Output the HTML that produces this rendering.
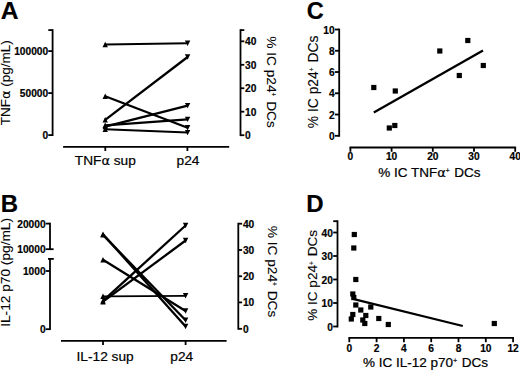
<!DOCTYPE html>
<html><head><meta charset="utf-8"><title>Figure</title>
<style>
html,body{margin:0;padding:0;background:#fff;}
body{width:520px;height:372px;overflow:hidden;}
svg{display:block;font-family:"Liberation Sans",Arial,sans-serif;fill:#000;}
</style></head><body>
<svg width="520" height="372" viewBox="0 0 520 372">
<rect x="0" y="0" width="520" height="372" fill="#fff"/>
<text x="0.7" y="18.6" font-size="24.6" font-weight="bold" text-anchor="start" stroke="#000" stroke-width="0.2">A</text>
<line x1="52.6" y1="29.2" x2="52.6" y2="136" stroke="#000" stroke-width="1.8" stroke-linecap="butt"/>
<line x1="48.300000000000004" y1="30.1" x2="52.6" y2="30.1" stroke="#000" stroke-width="1.8" stroke-linecap="butt"/>
<line x1="48.300000000000004" y1="51.1" x2="52.6" y2="51.1" stroke="#000" stroke-width="1.8" stroke-linecap="butt"/>
<text x="48.2" y="55.1" font-size="10.2" font-weight="bold" text-anchor="end" stroke="#000" stroke-width="0.2">100000</text>
<line x1="48.300000000000004" y1="93.1" x2="52.6" y2="93.1" stroke="#000" stroke-width="1.8" stroke-linecap="butt"/>
<text x="48.2" y="97.1" font-size="10.2" font-weight="bold" text-anchor="end" stroke="#000" stroke-width="0.2">50000</text>
<line x1="48.300000000000004" y1="135.1" x2="52.6" y2="135.1" stroke="#000" stroke-width="1.8" stroke-linecap="butt"/>
<text x="48.2" y="139.1" font-size="10.2" font-weight="bold" text-anchor="end" stroke="#000" stroke-width="0.2">0</text>
<text x="10.2" y="82.8" font-size="13.5" font-weight="normal" text-anchor="middle" transform="rotate(-90 10.2 82.8)" stroke="#000" stroke-width="0.1">TNF<tspan font-family="DejaVu Sans" font-size="13">&#945;</tspan> (pg/mL)</text>
<line x1="240.5" y1="29.2" x2="240.5" y2="136.1" stroke="#000" stroke-width="1.8" stroke-linecap="butt"/>
<line x1="240.5" y1="30.1" x2="244.3" y2="30.1" stroke="#000" stroke-width="1.8" stroke-linecap="butt"/>
<line x1="240.5" y1="41.3" x2="244.3" y2="41.3" stroke="#000" stroke-width="1.8" stroke-linecap="butt"/>
<text x="245.1" y="45.3" font-size="10.2" font-weight="bold" text-anchor="start" stroke="#000" stroke-width="0.2">40</text>
<line x1="240.5" y1="64.8" x2="244.3" y2="64.8" stroke="#000" stroke-width="1.8" stroke-linecap="butt"/>
<text x="245.1" y="68.8" font-size="10.2" font-weight="bold" text-anchor="start" stroke="#000" stroke-width="0.2">30</text>
<line x1="240.5" y1="88.25" x2="244.3" y2="88.25" stroke="#000" stroke-width="1.8" stroke-linecap="butt"/>
<text x="245.1" y="92.25" font-size="10.2" font-weight="bold" text-anchor="start" stroke="#000" stroke-width="0.2">20</text>
<line x1="240.5" y1="111.7" x2="244.3" y2="111.7" stroke="#000" stroke-width="1.8" stroke-linecap="butt"/>
<text x="245.1" y="115.7" font-size="10.2" font-weight="bold" text-anchor="start" stroke="#000" stroke-width="0.2">10</text>
<line x1="240.5" y1="135.2" x2="244.3" y2="135.2" stroke="#000" stroke-width="1.8" stroke-linecap="butt"/>
<text x="245.1" y="139.2" font-size="10.2" font-weight="bold" text-anchor="start" stroke="#000" stroke-width="0.2">0</text>
<text x="267.2" y="82" font-size="13.7" font-weight="normal" text-anchor="middle" transform="rotate(90 267.2 82)" stroke="#000" stroke-width="0.1">% IC p24<tspan font-size="6.5" dy="-3.6">+</tspan><tspan dy="3.6" dx="1.0"> </tspan>DCs</text>
<line x1="63.1" y1="146.8" x2="229.2" y2="146.8" stroke="#000" stroke-width="1.8" stroke-linecap="butt"/>
<line x1="105.3" y1="146.8" x2="105.3" y2="151.0" stroke="#000" stroke-width="1.8" stroke-linecap="butt"/>
<line x1="187.4" y1="146.8" x2="187.4" y2="151.0" stroke="#000" stroke-width="1.8" stroke-linecap="butt"/>
<text x="105.3" y="165.2" font-size="13.7" font-weight="normal" text-anchor="middle" stroke="#000" stroke-width="0.22">TNF<tspan font-family="DejaVu Sans" font-size="13">&#945;</tspan> sup</text>
<text x="188.0" y="165.2" font-size="13.7" font-weight="normal" text-anchor="middle" stroke="#000" stroke-width="0.22">p24</text>
<line x1="105.2" y1="44.5" x2="187.6" y2="43.3" stroke="#000" stroke-width="2.0" stroke-linecap="butt"/>
<polygon points="105.2,41.8 102.5,47.2 107.9,47.2"/>
<polygon points="187.6,46.0 184.9,40.599999999999994 190.29999999999998,40.599999999999994"/>
<line x1="105.2" y1="119.8" x2="187.6" y2="57" stroke="#000" stroke-width="2.3" stroke-linecap="butt"/>
<polygon points="105.2,117.1 102.5,122.5 107.9,122.5"/>
<polygon points="187.6,59.7 184.9,54.3 190.29999999999998,54.3"/>
<line x1="105.2" y1="96.3" x2="187.6" y2="127.8" stroke="#000" stroke-width="2.3" stroke-linecap="butt"/>
<polygon points="105.2,93.6 102.5,99.0 107.9,99.0"/>
<polygon points="187.6,130.5 184.9,125.1 190.29999999999998,125.1"/>
<line x1="105.2" y1="126.6" x2="187.6" y2="105.6" stroke="#000" stroke-width="2.3" stroke-linecap="butt"/>
<polygon points="105.2,123.89999999999999 102.5,129.29999999999998 107.9,129.29999999999998"/>
<polygon points="187.6,108.3 184.9,102.89999999999999 190.29999999999998,102.89999999999999"/>
<line x1="105.2" y1="125.3" x2="187.6" y2="119.4" stroke="#000" stroke-width="2.3" stroke-linecap="butt"/>
<polygon points="105.2,122.6 102.5,128.0 107.9,128.0"/>
<polygon points="187.6,122.10000000000001 184.9,116.7 190.29999999999998,116.7"/>
<line x1="105.2" y1="129.3" x2="187.6" y2="132.6" stroke="#000" stroke-width="2.0" stroke-linecap="butt"/>
<polygon points="105.2,126.60000000000001 102.5,132.0 107.9,132.0"/>
<polygon points="187.6,135.29999999999998 184.9,129.9 190.29999999999998,129.9"/>
<text x="0.8" y="211.7" font-size="24" font-weight="bold" text-anchor="start" stroke="#000" stroke-width="0.2">B</text>
<line x1="50.0" y1="222.7" x2="50.0" y2="250.1" stroke="#000" stroke-width="1.8" stroke-linecap="butt"/>
<line x1="45.7" y1="223.6" x2="50.0" y2="223.6" stroke="#000" stroke-width="1.8" stroke-linecap="butt"/>
<text x="45.6" y="227.6" font-size="10.2" font-weight="bold" text-anchor="end" stroke="#000" stroke-width="0.2">20000</text>
<line x1="45.7" y1="249.2" x2="53.6" y2="249.2" stroke="#000" stroke-width="1.8" stroke-linecap="butt"/>
<text x="45.6" y="253.2" font-size="10.2" font-weight="bold" text-anchor="end" stroke="#000" stroke-width="0.2">10000</text>
<line x1="50.0" y1="258" x2="50.0" y2="330.1" stroke="#000" stroke-width="1.8" stroke-linecap="butt"/>
<line x1="48.0" y1="258.9" x2="53.8" y2="258.9" stroke="#000" stroke-width="1.8" stroke-linecap="butt"/>
<line x1="45.7" y1="271.0" x2="50.0" y2="271.0" stroke="#000" stroke-width="1.8" stroke-linecap="butt"/>
<text x="45.6" y="275.0" font-size="10.2" font-weight="bold" text-anchor="end" stroke="#000" stroke-width="0.2">1000</text>
<line x1="45.7" y1="329.2" x2="50.0" y2="329.2" stroke="#000" stroke-width="1.8" stroke-linecap="butt"/>
<text x="45.6" y="333.2" font-size="10.2" font-weight="bold" text-anchor="end" stroke="#000" stroke-width="0.2">0</text>
<text x="9.8" y="272.4" font-size="13.7" font-weight="normal" text-anchor="middle" transform="rotate(-90 9.8 272.4)" stroke="#000" stroke-width="0.1">IL-12 p70 (pg/mL)</text>
<line x1="238.3" y1="222.8" x2="238.3" y2="329.7" stroke="#000" stroke-width="1.8" stroke-linecap="butt"/>
<line x1="238.3" y1="223.7" x2="242.10000000000002" y2="223.7" stroke="#000" stroke-width="1.8" stroke-linecap="butt"/>
<text x="242.9" y="227.7" font-size="10.2" font-weight="bold" text-anchor="start" stroke="#000" stroke-width="0.2">40</text>
<line x1="238.3" y1="250.0" x2="242.10000000000002" y2="250.0" stroke="#000" stroke-width="1.8" stroke-linecap="butt"/>
<text x="242.9" y="254.0" font-size="10.2" font-weight="bold" text-anchor="start" stroke="#000" stroke-width="0.2">30</text>
<line x1="238.3" y1="276.25" x2="242.10000000000002" y2="276.25" stroke="#000" stroke-width="1.8" stroke-linecap="butt"/>
<text x="242.9" y="280.25" font-size="10.2" font-weight="bold" text-anchor="start" stroke="#000" stroke-width="0.2">20</text>
<line x1="238.3" y1="302.4" x2="242.10000000000002" y2="302.4" stroke="#000" stroke-width="1.8" stroke-linecap="butt"/>
<text x="242.9" y="306.4" font-size="10.2" font-weight="bold" text-anchor="start" stroke="#000" stroke-width="0.2">10</text>
<line x1="238.3" y1="328.8" x2="242.10000000000002" y2="328.8" stroke="#000" stroke-width="1.8" stroke-linecap="butt"/>
<text x="242.9" y="332.8" font-size="10.2" font-weight="bold" text-anchor="start" stroke="#000" stroke-width="0.2">0</text>
<text x="268" y="271.5" font-size="13.7" font-weight="normal" text-anchor="middle" transform="rotate(90 268 271.5)" stroke="#000" stroke-width="0.1">% IC p24<tspan font-size="6.5" dy="-3.6">+</tspan><tspan dy="3.6" dx="1.0"> </tspan>DCs</text>
<line x1="61" y1="340.8" x2="226.6" y2="340.8" stroke="#000" stroke-width="1.8" stroke-linecap="butt"/>
<line x1="103.0" y1="340.8" x2="103.0" y2="345.0" stroke="#000" stroke-width="1.8" stroke-linecap="butt"/>
<line x1="185.6" y1="340.8" x2="185.6" y2="345.0" stroke="#000" stroke-width="1.8" stroke-linecap="butt"/>
<text x="105.1" y="360.6" font-size="13.7" font-weight="normal" text-anchor="middle" stroke="#000" stroke-width="0.22">IL-12 sup</text>
<text x="181.7" y="360.6" font-size="13.7" font-weight="normal" text-anchor="middle" stroke="#000" stroke-width="0.22">p24</text>
<line x1="103.0" y1="234.2" x2="185.6" y2="326.5" stroke="#000" stroke-width="2.3" stroke-linecap="butt"/>
<polygon points="103.0,231.5 100.3,236.89999999999998 105.7,236.89999999999998"/>
<polygon points="185.6,329.2 182.9,323.8 188.29999999999998,323.8"/>
<line x1="103.0" y1="234.9" x2="185.6" y2="320.25" stroke="#000" stroke-width="2.3" stroke-linecap="butt"/>
<polygon points="103.0,232.20000000000002 100.3,237.6 105.7,237.6"/>
<polygon points="185.6,322.95 182.9,317.55 188.29999999999998,317.55"/>
<line x1="103.0" y1="259.8" x2="185.6" y2="311" stroke="#000" stroke-width="2.3" stroke-linecap="butt"/>
<polygon points="103.0,257.1 100.3,262.5 105.7,262.5"/>
<polygon points="185.6,313.7 182.9,308.3 188.29999999999998,308.3"/>
<line x1="103.0" y1="296.3" x2="185.6" y2="295.8" stroke="#000" stroke-width="1.8" stroke-linecap="butt"/>
<polygon points="103.0,293.6 100.3,299.0 105.7,299.0"/>
<polygon points="185.6,298.5 182.9,293.1 188.29999999999998,293.1"/>
<line x1="103.0" y1="300.9" x2="185.6" y2="225.5" stroke="#000" stroke-width="2.3" stroke-linecap="butt"/>
<polygon points="103.0,298.2 100.3,303.59999999999997 105.7,303.59999999999997"/>
<polygon points="185.6,228.2 182.9,222.8 188.29999999999998,222.8"/>
<line x1="103.0" y1="301.7" x2="185.6" y2="240.5" stroke="#000" stroke-width="2.3" stroke-linecap="butt"/>
<polygon points="103.0,299.0 100.3,304.4 105.7,304.4"/>
<polygon points="185.6,243.2 182.9,237.8 188.29999999999998,237.8"/>
<text x="306.8" y="18.6" font-size="23.6" font-weight="bold" text-anchor="start" stroke="#000" stroke-width="0.2">C</text>
<line x1="339.2" y1="28.6" x2="339.2" y2="136.7" stroke="#000" stroke-width="1.8" stroke-linecap="butt"/>
<line x1="334.9" y1="135.8" x2="339.2" y2="135.8" stroke="#000" stroke-width="1.8" stroke-linecap="butt"/>
<text x="334.59999999999997" y="139.8" font-size="10.2" font-weight="bold" text-anchor="end" stroke="#000" stroke-width="0.2">0</text>
<line x1="334.9" y1="114.54" x2="339.2" y2="114.54" stroke="#000" stroke-width="1.8" stroke-linecap="butt"/>
<text x="334.59999999999997" y="118.54" font-size="10.2" font-weight="bold" text-anchor="end" stroke="#000" stroke-width="0.2">2</text>
<line x1="334.9" y1="93.28" x2="339.2" y2="93.28" stroke="#000" stroke-width="1.8" stroke-linecap="butt"/>
<text x="334.59999999999997" y="97.28" font-size="10.2" font-weight="bold" text-anchor="end" stroke="#000" stroke-width="0.2">4</text>
<line x1="334.9" y1="72.02000000000001" x2="339.2" y2="72.02000000000001" stroke="#000" stroke-width="1.8" stroke-linecap="butt"/>
<text x="334.59999999999997" y="76.02000000000001" font-size="10.2" font-weight="bold" text-anchor="end" stroke="#000" stroke-width="0.2">6</text>
<line x1="334.9" y1="50.760000000000005" x2="339.2" y2="50.760000000000005" stroke="#000" stroke-width="1.8" stroke-linecap="butt"/>
<text x="334.59999999999997" y="54.760000000000005" font-size="10.2" font-weight="bold" text-anchor="end" stroke="#000" stroke-width="0.2">8</text>
<line x1="334.9" y1="29.5" x2="339.2" y2="29.5" stroke="#000" stroke-width="1.8" stroke-linecap="butt"/>
<text x="334.59999999999997" y="33.5" font-size="10.2" font-weight="bold" text-anchor="end" stroke="#000" stroke-width="0.2">10</text>
<text x="318.1" y="81.9" font-size="13.85" font-weight="normal" text-anchor="middle" transform="rotate(-90 318.1 81.9)" stroke="#000" stroke-width="0.1">% IC p24<tspan font-size="6.5" dy="-3.6">+</tspan><tspan dy="3.6" dx="1.0"> </tspan>DCs</text>
<line x1="349.5" y1="147.5" x2="516.1" y2="147.5" stroke="#000" stroke-width="1.8" stroke-linecap="butt"/>
<line x1="350.4" y1="147.5" x2="350.4" y2="151.8" stroke="#000" stroke-width="1.8" stroke-linecap="butt"/>
<text x="350.4" y="160.4" font-size="10.2" font-weight="bold" text-anchor="middle" stroke="#000" stroke-width="0.2">0</text>
<line x1="391.59999999999997" y1="147.5" x2="391.59999999999997" y2="151.8" stroke="#000" stroke-width="1.8" stroke-linecap="butt"/>
<text x="391.59999999999997" y="160.4" font-size="10.2" font-weight="bold" text-anchor="middle" stroke="#000" stroke-width="0.2">10</text>
<line x1="432.79999999999995" y1="147.5" x2="432.79999999999995" y2="151.8" stroke="#000" stroke-width="1.8" stroke-linecap="butt"/>
<text x="432.79999999999995" y="160.4" font-size="10.2" font-weight="bold" text-anchor="middle" stroke="#000" stroke-width="0.2">20</text>
<line x1="474.0" y1="147.5" x2="474.0" y2="151.8" stroke="#000" stroke-width="1.8" stroke-linecap="butt"/>
<text x="474.0" y="160.4" font-size="10.2" font-weight="bold" text-anchor="middle" stroke="#000" stroke-width="0.2">30</text>
<line x1="515.2" y1="147.5" x2="515.2" y2="151.8" stroke="#000" stroke-width="1.8" stroke-linecap="butt"/>
<text x="515.2" y="160.4" font-size="10.2" font-weight="bold" text-anchor="middle" stroke="#000" stroke-width="0.2">40</text>
<text x="429.4" y="176.7" font-size="13.5" font-weight="normal" text-anchor="middle" stroke="#000" stroke-width="0.22">% IC TNF<tspan font-family="DejaVu Sans" font-size="13">&#945;</tspan><tspan font-size="6.5" dy="-3.6">+</tspan><tspan dy="3.6" dx="1.0"> </tspan>DCs</text>
<rect x="371.2" y="84.9" width="5.2" height="5.2"/>
<rect x="386.7" y="125.4" width="5.2" height="5.2"/>
<rect x="392.2" y="122.9" width="5.2" height="5.2"/>
<rect x="392.7" y="88.4" width="5.2" height="5.2"/>
<rect x="437.2" y="48.4" width="5.2" height="5.2"/>
<rect x="456.7" y="72.9" width="5.2" height="5.2"/>
<rect x="465.2" y="37.9" width="5.2" height="5.2"/>
<rect x="480.7" y="62.9" width="5.2" height="5.2"/>
<line x1="373.8" y1="112.5" x2="483.0" y2="50.6" stroke="#000" stroke-width="2.3" stroke-linecap="butt"/>
<text x="306.3" y="211.7" font-size="24" font-weight="bold" text-anchor="start" stroke="#000" stroke-width="0.2">D</text>
<line x1="337.5" y1="220.3" x2="337.5" y2="327.4" stroke="#000" stroke-width="1.8" stroke-linecap="butt"/>
<line x1="333.2" y1="221.2" x2="337.5" y2="221.2" stroke="#000" stroke-width="1.8" stroke-linecap="butt"/>
<line x1="333.2" y1="326.5" x2="337.5" y2="326.5" stroke="#000" stroke-width="1.8" stroke-linecap="butt"/>
<text x="332.9" y="330.5" font-size="10.2" font-weight="bold" text-anchor="end" stroke="#000" stroke-width="0.2">0</text>
<line x1="333.2" y1="303.0" x2="337.5" y2="303.0" stroke="#000" stroke-width="1.8" stroke-linecap="butt"/>
<text x="332.9" y="307.0" font-size="10.2" font-weight="bold" text-anchor="end" stroke="#000" stroke-width="0.2">10</text>
<line x1="333.2" y1="279.5" x2="337.5" y2="279.5" stroke="#000" stroke-width="1.8" stroke-linecap="butt"/>
<text x="332.9" y="283.5" font-size="10.2" font-weight="bold" text-anchor="end" stroke="#000" stroke-width="0.2">20</text>
<line x1="333.2" y1="256.0" x2="337.5" y2="256.0" stroke="#000" stroke-width="1.8" stroke-linecap="butt"/>
<text x="332.9" y="260.0" font-size="10.2" font-weight="bold" text-anchor="end" stroke="#000" stroke-width="0.2">30</text>
<line x1="333.2" y1="232.5" x2="337.5" y2="232.5" stroke="#000" stroke-width="1.8" stroke-linecap="butt"/>
<text x="332.9" y="236.5" font-size="10.2" font-weight="bold" text-anchor="end" stroke="#000" stroke-width="0.2">40</text>
<text x="317.5" y="275.4" font-size="13.6" font-weight="normal" text-anchor="middle" transform="rotate(-90 317.5 275.4)" stroke="#000" stroke-width="0.1">% IC p24<tspan font-size="6.5" dy="-3.6">+</tspan><tspan dy="3.6" dx="1.0"> </tspan>DCs</text>
<line x1="348.4" y1="337.9" x2="514.0" y2="337.9" stroke="#000" stroke-width="1.8" stroke-linecap="butt"/>
<line x1="349.3" y1="337.9" x2="349.3" y2="342.2" stroke="#000" stroke-width="1.8" stroke-linecap="butt"/>
<text x="349.3" y="351.7" font-size="10.2" font-weight="bold" text-anchor="middle" stroke="#000" stroke-width="0.2">0</text>
<line x1="376.6" y1="337.9" x2="376.6" y2="342.2" stroke="#000" stroke-width="1.8" stroke-linecap="butt"/>
<text x="376.6" y="351.7" font-size="10.2" font-weight="bold" text-anchor="middle" stroke="#000" stroke-width="0.2">2</text>
<line x1="403.90000000000003" y1="337.9" x2="403.90000000000003" y2="342.2" stroke="#000" stroke-width="1.8" stroke-linecap="butt"/>
<text x="403.90000000000003" y="351.7" font-size="10.2" font-weight="bold" text-anchor="middle" stroke="#000" stroke-width="0.2">4</text>
<line x1="431.20000000000005" y1="337.9" x2="431.20000000000005" y2="342.2" stroke="#000" stroke-width="1.8" stroke-linecap="butt"/>
<text x="431.20000000000005" y="351.7" font-size="10.2" font-weight="bold" text-anchor="middle" stroke="#000" stroke-width="0.2">6</text>
<line x1="458.5" y1="337.9" x2="458.5" y2="342.2" stroke="#000" stroke-width="1.8" stroke-linecap="butt"/>
<text x="458.5" y="351.7" font-size="10.2" font-weight="bold" text-anchor="middle" stroke="#000" stroke-width="0.2">8</text>
<line x1="485.8" y1="337.9" x2="485.8" y2="342.2" stroke="#000" stroke-width="1.8" stroke-linecap="butt"/>
<text x="485.8" y="351.7" font-size="10.2" font-weight="bold" text-anchor="middle" stroke="#000" stroke-width="0.2">10</text>
<line x1="513.1" y1="337.9" x2="513.1" y2="342.2" stroke="#000" stroke-width="1.8" stroke-linecap="butt"/>
<text x="513.1" y="351.7" font-size="10.2" font-weight="bold" text-anchor="middle" stroke="#000" stroke-width="0.2">12</text>
<text x="425.5" y="367.0" font-size="13.5" font-weight="normal" text-anchor="middle" stroke="#000" stroke-width="0.22">% IC IL-12 p70<tspan font-size="6.5" dy="-3.6">+</tspan><tspan dy="3.6" dx="1.0"> </tspan>DCs</text>
<rect x="351.7" y="231.9" width="5.2" height="5.2"/>
<rect x="351.2" y="245.4" width="5.2" height="5.2"/>
<rect x="353.2" y="276.9" width="5.2" height="5.2"/>
<rect x="350.2" y="291.4" width="5.2" height="5.2"/>
<rect x="351.2" y="294.9" width="5.2" height="5.2"/>
<rect x="353.2" y="302.4" width="5.2" height="5.2"/>
<rect x="358.2" y="307.4" width="5.2" height="5.2"/>
<rect x="368.2" y="304.4" width="5.2" height="5.2"/>
<rect x="363.2" y="312.9" width="5.2" height="5.2"/>
<rect x="350.2" y="311.9" width="5.2" height="5.2"/>
<rect x="348.7" y="316.4" width="5.2" height="5.2"/>
<rect x="360.2" y="317.4" width="5.2" height="5.2"/>
<rect x="362.2" y="320.9" width="5.2" height="5.2"/>
<rect x="376.2" y="315.9" width="5.2" height="5.2"/>
<rect x="385.7" y="321.9" width="5.2" height="5.2"/>
<rect x="491.7" y="320.9" width="5.2" height="5.2"/>
<line x1="352.8" y1="298.9" x2="462.8" y2="326.0" stroke="#000" stroke-width="2.3" stroke-linecap="butt"/>
</svg>
</body></html>
